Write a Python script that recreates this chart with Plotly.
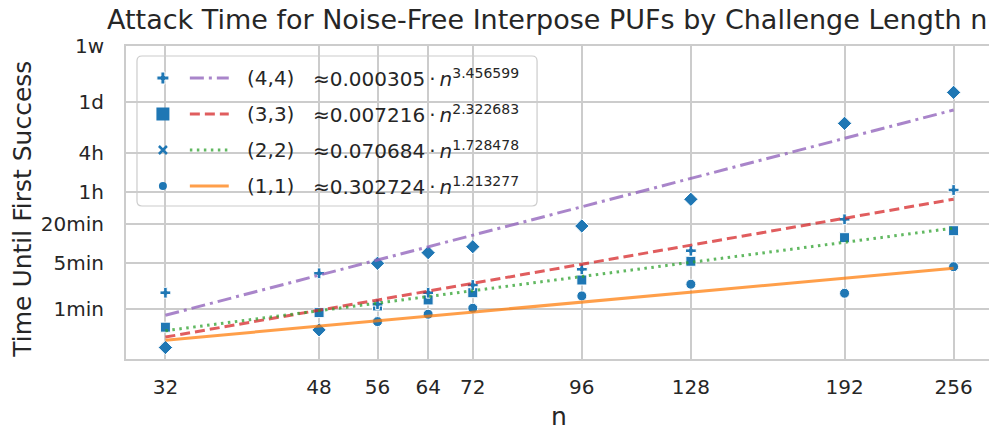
import numpy as np
import plotly.graph_objects as go

# ---------------- data ----------------
n_values = [32, 48, 56, 64, 72, 96, 128, 192, 256]
time_44 = [15.7, 29.1, 300, 435, 536, 1107, 2817, 40260, 119200]   # diamonds
time_33 = [107, 211, 71.5, 107, 140, 243, 466, 1399, 3902]         # plus
time_22 = [32, 53.3, 67.3, 83, 107, 167, 322, 735, 939]            # squares
time_11 = [16, 29, 38.9, 50.4, 62.1, 95.6, 144, 105, 266]          # circles

fit_labels = ["(4,4)", "(3,3)", "(2,2)", "(1,1)"]
fit_coef = [0.000305, 0.007216, 0.070684, 0.302724]
fit_exp = [3.456599, 2.322683, 1.728478, 1.213277]

y_tick_vals = [60, 300, 1200, 3600, 14400, 86400, 604800]
y_tick_text = ["1min", "5min", "20min", "1h", "4h", "1d", "1w"]

# ---------------- style ----------------
FONT = "DejaVu Sans"
TXT = "#262626"
BLUE = "#1f77b4"
GRID = "#cccccc"
line_colors = ["rgba(148,103,189,0.8)", "rgba(214,39,40,0.75)",
               "rgba(44,160,44,0.75)", "rgba(255,127,14,0.75)"]
line_dash = ["14px,5px,3px,5px", "10px,5px", "2.5px,4.5px", "solid"]
legend_symbols = [("cross", 10, 1, "white"), ("square", 13, 0, "white"),
                  ("x-thin", 8, 2.5, BLUE), ("circle", 8, 0, "white")]

# page body has an 8px margin: work in window pixels, convert to figure pixels
OFF = 8
W, H = 997 - OFF, 435 - OFF
L, R, T, B = 126 - OFF, 995 - OFF, 46 - OFF, 359 - OFF


def px(xw):
    return (xw - OFF - L) / (R - L)


def py(yw):
    return (B - (yw - OFF)) / (B - T)


fig = go.Figure()

marker_series = [
    (time_11, "circle", 10),
    (time_22, "square", 10),
    (time_33, "cross", 9),
    (time_44, "diamond", 11),
]
for vals, sym, size in marker_series:
    fig.add_trace(go.Scatter(
        x=n_values, y=vals, mode="markers",
        marker=dict(symbol=sym, size=size, color=BLUE,
                    line=dict(color="white", width=1)),
        showlegend=False, hoverinfo="skip"))

x_fit = np.array([n_values[0], n_values[-1]], dtype=float)
for c, e, col, dash in zip(fit_coef, fit_exp, line_colors, line_dash):
    fig.add_trace(go.Scatter(
        x=x_fit, y=c * x_fit ** e, mode="lines",
        line=dict(color=col, width=3, dash=dash),
        showlegend=False, hoverinfo="skip"))

# ---------------- manual legend ----------------
lx0, ly0, lx1, ly1, rr = 137, 56, 538, 206, 5
pts = lambda x, y: f"{px(x):.5f},{py(y):.5f}"
path = (f"M {pts(lx0+rr, ly0)} L {pts(lx1-rr, ly0)} Q {pts(lx1, ly0)} {pts(lx1, ly0+rr)} "
        f"L {pts(lx1, ly1-rr)} Q {pts(lx1, ly1)} {pts(lx1-rr, ly1)} L {pts(lx0+rr, ly1)} "
        f"Q {pts(lx0, ly1)} {pts(lx0, ly1-rr)} L {pts(lx0, ly0+rr)} Q {pts(lx0, ly0)} {pts(lx0+rr, ly0)} Z")
shapes = [dict(type="path", path=path, xref="paper", yref="paper",
               fillcolor="rgba(255,255,255,0.8)", line=dict(color=GRID, width=1.2),
               layer="below")]
row_y = [78, 114, 150, 186]
annotations = []
for i, yv in enumerate(row_y):
    sym, sz, lw, lc = legend_symbols[i]
    fig.add_trace(go.Scatter(
        x=[px(163)], y=[py(yv)], xaxis="x2", yaxis="y2", mode="markers",
        marker=dict(symbol=sym, size=sz, color=BLUE, line=dict(color=lc, width=lw)),
        showlegend=False, hoverinfo="skip", cliponaxis=False))
    shapes.append(dict(type="line", xref="paper", yref="paper",
                       x0=px(190), x1=px(229), y0=py(yv), y1=py(yv),
                       line=dict(color=line_colors[i], width=3,
                                 dash=line_dash[i]), layer="above"))
    annotations.append(dict(xref="paper", yref="paper", x=px(245), y=py(yv),
                            text=fit_labels[i],
                            showarrow=False, xanchor="left", yanchor="middle",
                            font=dict(family=FONT, size=20, color=TXT)))
    annotations.append(dict(xref="paper", yref="paper", x=px(311), y=py(yv),
                            text=f"≈{fit_coef[i]:.6f}\u2009·\u2009<i>n</i><sup>{fit_exp[i]:.6f}</sup>",
                            showarrow=False, xanchor="left", yanchor="middle",
                            font=dict(family=FONT, size=20, color=TXT)))

# titles
annotations.append(dict(xref="paper", yref="paper", x=px(548), y=py(19),
                        text="Attack Time for Noise-Free Interpose PUFs by Challenge Length n",
                        showarrow=False, xanchor="center", yanchor="middle",
                        font=dict(family=FONT, size=27, color=TXT)))
annotations.append(dict(xref="paper", yref="paper", x=px(560), y=py(416.5), text="n",
                        showarrow=False, xanchor="center", yanchor="middle",
                        font=dict(family=FONT, size=25, color=TXT)))
annotations.append(dict(xref="paper", yref="paper", x=px(21.5), y=py(209),
                        text="Time Until First Success",
                        textangle=-90, showarrow=False, xanchor="center", yanchor="middle",
                        font=dict(family=FONT, size=25, color=TXT)))

fig.update_layout(
    width=W, height=H,
    margin=dict(l=L, r=W - R, t=T, b=H - B, pad=0),
    paper_bgcolor="white", plot_bgcolor="white",
    font=dict(family=FONT, size=20, color=TXT),
    showlegend=False,
    xaxis=dict(type="log", range=[np.log10(32) - 0.04515, np.log10(256) + 0.04515],
               tickvals=n_values, ticktext=[str(v) for v in n_values],
               showgrid=True, gridcolor=GRID, gridwidth=1.6,
               showline=True, mirror=True, linecolor=GRID, linewidth=2,
               zeroline=False, ticks="", ticklabelstandoff=9,
               tickfont=dict(family=FONT, size=20, color=TXT)),
    yaxis=dict(type="log", range=[np.log10(10.5), np.log10(604800)],
               tickvals=y_tick_vals, ticktext=y_tick_text,
               showgrid=True, gridcolor=GRID, gridwidth=1.6,
               showline=True, mirror=True, linecolor=GRID, linewidth=2,
               zeroline=False, ticks="", ticklabelstandoff=16,
               tickfont=dict(family=FONT, size=20, color=TXT)),
    xaxis2=dict(overlaying="x", range=[0, 1], visible=False),
    yaxis2=dict(overlaying="y", range=[0, 1], visible=False),
    shapes=shapes, annotations=annotations,
)

fig.write_html("out.html")
